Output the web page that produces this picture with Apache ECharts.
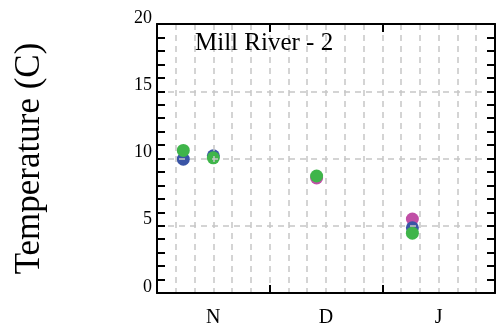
<!DOCTYPE html>
<html>
<head>
<meta charset="utf-8">
<script src="https://cdn.jsdelivr.net/npm/echarts@6/dist/echarts.min.js"></script>
<style>
  html, body { margin: 0; padding: 0; background: #ffffff; }
  #chart { width: 502px; height: 328px; }
</style>
</head>
<body>
<div id="chart"></div>
<script>
// Season runs Nov -> Jan, 30 day-units per month on the x axis
const monthLabels = ['N', 'D', 'J'];
const monthCentres = [15, 45, 75];
const monthBounds = [30, 60];
const yTickLabels = [0, 5, 10, 15, 20];

// Water temperature samples (C) by day of season
const magentaDays = [42.5, 68];
const magentaTemps = [8.55, 5.5];
const blueDays = [7, 15, 68];
const blueTemps = [9.95, 10.2, 4.85];
const greenDays = [7, 15, 42.5, 68];
const greenTemps = [10.6, 10.05, 8.7, 4.45];

const font = "'Liberation Serif', 'Times New Roman', serif";
const pair = (xs, ys) => xs.map((x, i) => [x, ys[i]]);

const gridDash = { color: '#c6c6c6', width: 1.5, type: [6, 5] };
const frameLine = { show: true, onZero: false, lineStyle: { color: '#000', width: 2 } };
const hidden = { show: false };

const chart = echarts.init(document.getElementById('chart'), null, { renderer: 'canvas' });
chart.setOption({
  animation: false,
  backgroundColor: '#ffffff',
  title: {
    text: 'Mill River - 2',
    left: 190,
    top: 26,
    textStyle: { fontFamily: font, fontSize: 25, fontWeight: 'normal', color: '#000' }
  },
  grid: { left: 157, right: 7, top: 24, bottom: 35, containLabel: false },
  xAxis: [
    { // bottom: month labels and month boundary ticks
      type: 'value', min: 0, max: 90, position: 'bottom', z: 4,
      axisLine: frameLine,
      axisTick: { show: true, inside: true, length: 8, customValues: monthBounds,
                  lineStyle: { color: '#000', width: 2 } },
      axisLabel: { show: true, customValues: monthCentres, margin: 15,
                   formatter: v => monthLabels[monthCentres.indexOf(v)],
                   fontFamily: font, fontSize: 20, color: '#000' },
      splitLine: hidden
    },
    { // top frame
      type: 'value', min: 0, max: 90, position: 'top', z: 4,
      axisLine: frameLine,
      axisTick: { show: true, inside: true, length: 8, customValues: monthBounds,
                  lineStyle: { color: '#000', width: 2 } },
      axisLabel: hidden, splitLine: hidden
    },
    { // 5-day dashed grid
      type: 'value', min: 0, max: 90, interval: 5, position: 'bottom', z: 3,
      axisLine: hidden, axisTick: hidden, axisLabel: hidden,
      splitLine: { show: true, lineStyle: gridDash }
    }
  ],
  yAxis: [
    { // left: labels and dashed grid every 5
      type: 'value', min: 0, max: 20, interval: 5, position: 'left', z: 3,
      name: 'Temperature (C)', nameLocation: 'middle', nameGap: 110,
      nameTextStyle: { fontFamily: font, fontSize: 35, color: '#000' },
      axisLine: frameLine,
      axisTick: hidden,
      axisLabel: { show: true, margin: 5, verticalAlign: 'bottom', lineHeight: 12,
                   formatter: v => (yTickLabels.includes(v) ? String(v) : ''),
                   fontFamily: font, fontSize: 18, color: '#000' },
      splitLine: { show: true, lineStyle: gridDash }
    },
    { // right frame with unit ticks
      type: 'value', min: 0, max: 20, interval: 1, position: 'right', z: 4,
      axisLine: frameLine,
      axisTick: { show: true, inside: true, length: 8, lineStyle: { color: '#000', width: 2 } },
      axisLabel: hidden, splitLine: hidden
    },
    { // left unit ticks
      type: 'value', min: 0, max: 20, interval: 1, position: 'left', z: 4,
      axisLine: hidden,
      axisTick: { show: true, inside: true, length: 8, lineStyle: { color: '#000', width: 2 } },
      axisLabel: hidden, splitLine: hidden
    }
  ],
  series: [
    { type: 'scatter', name: 'magenta', xAxisIndex: 0, yAxisIndex: 0, z: 2,
      symbolSize: 13, itemStyle: { color: '#c04fa6', opacity: 1 },
      data: pair(magentaDays, magentaTemps) },
    { type: 'scatter', name: 'blue', xAxisIndex: 0, yAxisIndex: 0, z: 2,
      symbolSize: 13, itemStyle: { color: '#3a55a6', opacity: 1 },
      data: pair(blueDays, blueTemps) },
    { type: 'scatter', name: 'green', xAxisIndex: 0, yAxisIndex: 0, z: 2,
      symbolSize: 13, itemStyle: { color: '#3fb54a', opacity: 1 },
      data: pair(greenDays, greenTemps) }
  ]
});
</script>
</body>
</html>
